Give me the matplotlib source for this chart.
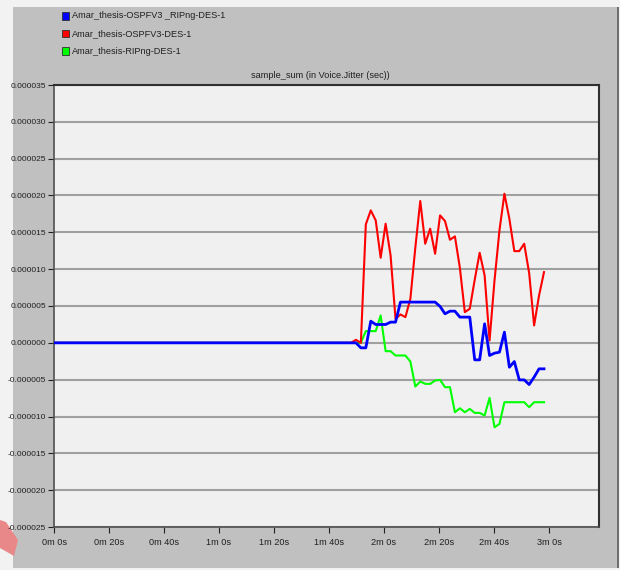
import matplotlib
matplotlib.use("Agg")
import matplotlib.pyplot as plt
from matplotlib.patches import Rectangle, Polygon
import numpy as np

# -----------------------
# Data (jitter in microseconds, time in seconds)
# -----------------------
time_s = [0.0, 108.0, 109.8, 111.6, 113.4, 115.2, 117.0, 118.8, 120.6, 122.4,
          124.2, 126.0, 127.8, 129.6, 131.4, 133.2, 135.0, 136.8, 138.6, 140.4,
          142.2, 144.0, 145.8, 147.6, 149.4, 151.2, 153.0, 154.8, 156.6, 158.4,
          160.2, 162.0, 163.8, 165.6, 167.4, 169.2, 171.0, 172.8, 174.6, 176.4,
          178.2]

ospf_ripng_us = [0, 0, 0, -0.68, -0.68, 2.94, 2.49, 2.49, 2.49, 2.81,
                 2.81, 5.53, 5.53, 5.53, 5.53, 5.53, 5.53, 5.53, 5.53, 4.94,
                 3.94, 4.30, 4.30, 3.49, 3.49, 3.49, -2.31, -2.31, 2.58, -1.72,
                 -1.40, -1.27, 1.45, -3.31, -2.54, -5.03, -5.03, -5.66, -4.66, -3.53,
                 -3.53]

ospf_us = [0, 0, 0.41, 0, 16.08, 17.98, 16.62, 11.55, 16.17, 11.87,
           3.26, 3.85, 3.49, 5.98, 12.9, 19.25, 13.45, 15.49, 12.09, 17.30,
           16.53, 13.99, 14.45, 10.19, 4.17, 4.62, 8.56, 12.23, 9.15, 0.32,
           8.47, 15.26, 20.24, 16.85, 12.45, 12.45, 13.45, 9.47, 2.36, 6.43,
           9.60]

ripng_us = [0, 0, 0, 0, 1.59, 1.59, 1.59, 3.71, -1.13, -1.13,
            -1.72, -1.72, -1.72, -2.54, -5.93, -5.25, -5.57, -5.57, -5.12, -5.03,
            -6.02, -6.02, -9.42, -8.88, -9.42, -8.97, -9.51, -9.51, -9.87, -7.47,
            -11.46, -11.01, -8.06, -8.06, -8.06, -8.06, -8.06, -8.74, -8.06, -8.06,
            -8.06]

series_names = ["Amar_thesis-OSPFV3 _RIPng-DES-1",
                "Amar_thesis-OSPFV3-DES-1",
                "Amar_thesis-RIPng-DES-1"]
series_colors = ["#0000ff", "#ff0000", "#00ff00"]

x_ticks = [0, 20, 40, 60, 80, 100, 120, 140, 160, 180]
x_labels = ["0m 0s", "0m 20s", "0m 40s", "1m 0s", "1m 20s",
            "1m 40s", "2m 0s", "2m 20s", "2m 40s", "3m 0s"]
y_ticks = [-0.000025, -0.000020, -0.000015, -0.000010, -0.000005, 0.0,
           0.000005, 0.000010, 0.000015, 0.000020, 0.000025, 0.000030, 0.000035]

plt.rcParams['font.family'] = ['Liberation Sans', 'DejaVu Sans']
FS = 6.6

W, H = 620, 570
fig = plt.figure(figsize=(W / 100, H / 100), dpi=100, facecolor="#f2f2f2")


def fx(px):
    return px / W


def fy(py):
    return 1 - py / H


# gray panel behind everything
fig.patches.append(Rectangle((fx(13), fy(568)), fx(604), 561 / H,
                             transform=fig.transFigure, facecolor="#c0c0c0",
                             edgecolor="none", zorder=-2))
fig.patches.append(Rectangle((fx(617), fy(568)), fx(2), 561 / H,
                             transform=fig.transFigure, facecolor="#707070",
                             edgecolor="none", zorder=-2))
# pink mark in the lower-left corner
fig.patches.append(Polygon([(fx(0), fy(520)), (fx(6), fy(522)), (fx(18), fy(540)),
                            (fx(14), fy(556)), (fx(0), fy(548))],
                           closed=True, transform=fig.transFigure,
                           facecolor="#e88888", edgecolor="none", zorder=-2))

ax = fig.add_axes([fx(54), fy(527), fx(545), 442 / H])
ax.set_facecolor("#f0f0f0")

t = np.array(time_s)
ax.plot(t, np.array(ripng_us) * 1e-6, color=series_colors[2], lw=1.5, zorder=3)
ax.plot(t, np.array(ospf_us) * 1e-6, color=series_colors[1], lw=1.5, zorder=4)
ax.plot(t, np.array(ospf_ripng_us) * 1e-6, color=series_colors[0], lw=2.0, zorder=5)

ax.set_xlim(0, 198.2)
ax.set_ylim(-0.000025, 0.000035)
ax.set_xticks(x_ticks)
ax.set_xticklabels(x_labels)
ax.set_yticks(y_ticks)
ax.set_yticklabels(["%.6f" % v for v in y_ticks])
ax.tick_params(axis="both", colors="#202020", length=4, width=0.8)
ax.tick_params(axis="x", labelsize=FS, pad=4)
ax.tick_params(axis="y", labelsize=6.0, pad=1.5)

ax.grid(axis="y", color="#a0a0a0", lw=1.5)
ax.set_axisbelow(True)
for side in ["left", "bottom"]:
    ax.spines[side].set_color("#505050")
    ax.spines[side].set_linewidth(1.2)
for side in ["top", "right"]:
    ax.spines[side].set_color("#303030")
    ax.spines[side].set_linewidth(1.5)

fig.text(fx(320), fy(75), "sample_sum (in Voice.Jitter (sec))", ha="center",
         va="center", fontsize=FS, color="#202020")

# legend squares and names
for i, (name, col) in enumerate(zip(series_names, series_colors)):
    yc = 16 + 17.5 * i
    fig.patches.append(Rectangle((fx(62), fy(yc + 3.5)), fx(6.5), 7 / H,
                                 transform=fig.transFigure, facecolor=col,
                                 edgecolor="#303030", lw=0.6, zorder=2))
    fig.text(fx(72), fy(yc), name, ha="left", va="center", fontsize=FS,
             color="#202020")

fig.savefig("out.png", dpi=100, facecolor=fig.get_facecolor())
